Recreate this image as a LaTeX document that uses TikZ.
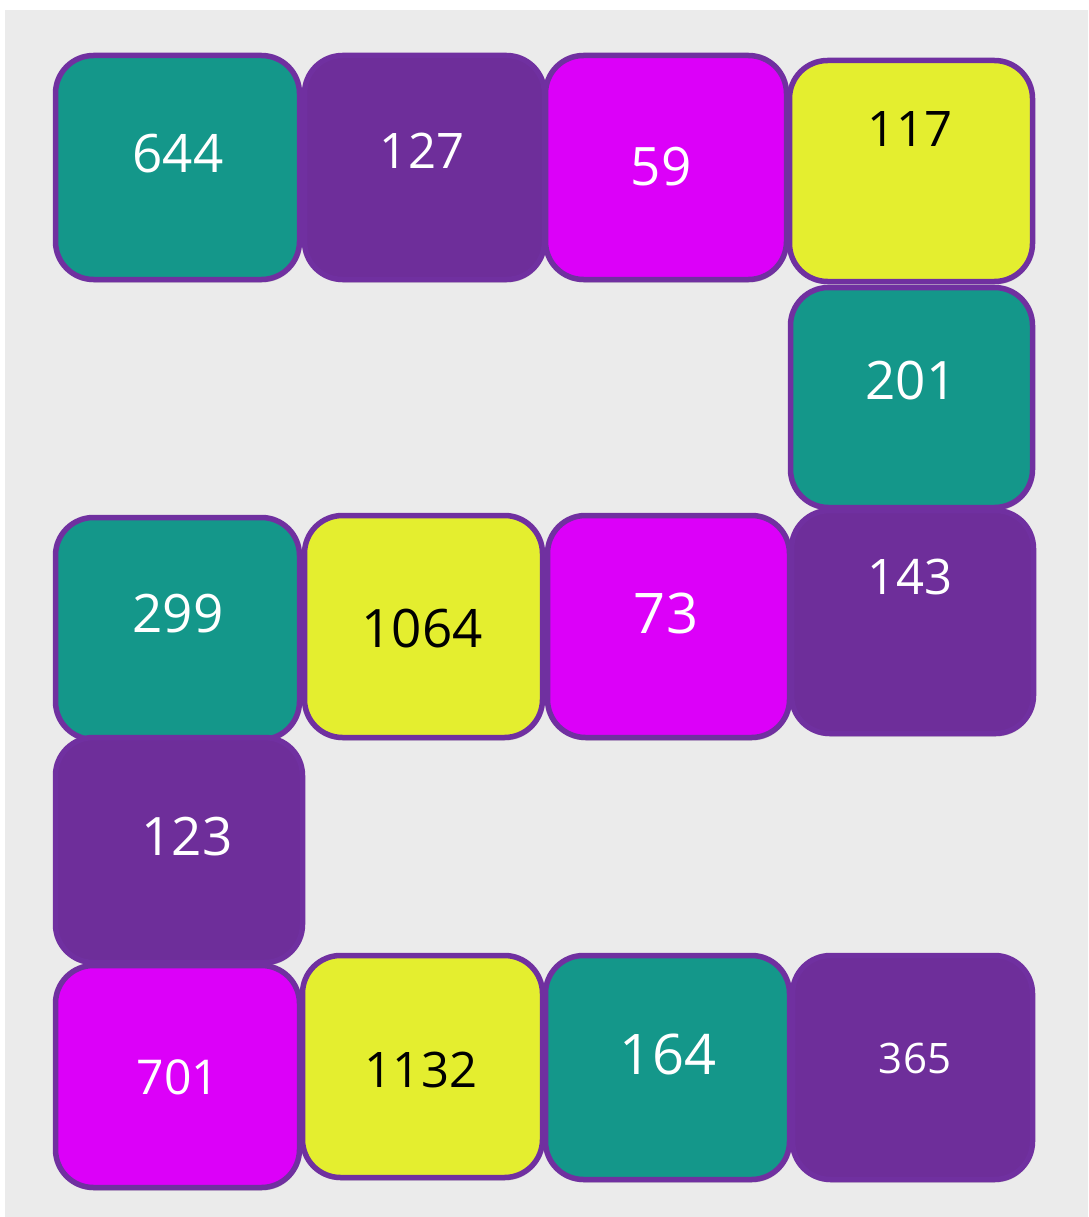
\documentclass[tikz,border=0pt]{standalone}
\usepackage{fontspec}
\setmainfont{Open Sans}
\usepackage{xcolor}
\usepackage{tikz}
\usetikzlibrary{shadows}
\definecolor{boardgray}{HTML}{EBEBEB}
\definecolor{tileteal}{HTML}{14978A}
\definecolor{tilepurple}{HTML}{6E2E9A}
\definecolor{tilemagenta}{HTML}{DC00F9}
\definecolor{tileyellow}{HTML}{E4EE2F}
\definecolor{edgepurple}{HTML}{7030A0}

\tikzset{
  tile/.style={draw=edgepurple, line width=5.5pt, rounded corners=38pt,
    inner sep=0pt,
    drop shadow={shadow xshift=1pt, shadow yshift=-3pt, opacity=0.3}},
  num/.style={text=white, font=\fontsize{#1}{#1}\selectfont}
}

\begin{document}
\begin{tikzpicture}[x=1pt, y=-1pt]
  \useasboundingbox (0,0) rectangle (1088,1217);
  \fill[white] (0,0) rectangle (1088,1217);
  \fill[boardgray] (5,10) rectangle (1088,1217);

  % top row
  \node[tile, fill=tileteal, minimum width=244pt, minimum height=224pt,
        label={[num=53, xshift=0.5pt, yshift=13.5pt]center:644}] (t644) at (177.5,167.5) {};
  \node[tile, fill=tilepurple, minimum width=240pt, minimum height=224pt,
        label={[num=49, xshift=-2.5pt, yshift=17pt]center:127}] (t127) at (424.5,167.5) {};
  \node[tile, fill=tilemagenta, minimum width=241pt, minimum height=224pt,
        label={[num=53, xshift=-5pt, yshift=0.5pt]center:59}] (t59) at (666,167.5) {};
  \node[tile, fill=tileyellow, minimum width=243pt, minimum height=221pt,
        label={[num=49, text=black, xshift=-1pt, yshift=42pt]center:117}] (t117) at (911,171) {};

  % right column
  \node[tile, fill=tileteal, minimum width=242pt, minimum height=220pt,
        label={[num=53, xshift=-0.5pt, yshift=16.5pt]center:201}] (t201) at (911.5,397.5) {};
  \node[tile, fill=tilepurple, minimum width=242pt, minimum height=223pt,
        label={[num=49, xshift=-2.5pt, yshift=45pt]center:143}] (t143) at (912.5,622) {};

  % middle row
  \node[tile, fill=tilemagenta, minimum width=242pt, minimum height=222pt,
        label={[num=56, xshift=-2.5pt, yshift=13.5pt]center:73}] (t73) at (668.5,626.5) {};
  \node[tile, fill=tileyellow, minimum width=238pt, minimum height=222pt,
        label={[num=53, text=black, xshift=-1.5pt, yshift=-2.5pt]center:1064}] (t1064) at (423.5,626.5) {};
  \node[tile, fill=tileteal, minimum width=244pt, minimum height=222pt,
        label={[num=53, xshift=0.5pt, yshift=14.5pt]center:299}] (t299) at (177.5,628.5) {};

  % left column
  \node[tile, fill=tilepurple, minimum width=247pt, minimum height=225pt,
        label={[num=53, xshift=8pt, yshift=13pt]center:123}] (t123) at (179,850) {};

  % bottom row
  \node[tile, fill=tilemagenta, minimum width=244pt, minimum height=222pt,
        label={[num=48, xshift=0.5pt, yshift=-0.5pt]center:701}] (t701) at (177.5,1076.5) {};
  \node[tile, fill=tileyellow, minimum width=240pt, minimum height=222pt,
        label={[num=49, text=black, xshift=-1.5pt, yshift=-3.5pt]center:1132}] (t1132) at (422.5,1066.5) {};
  \node[tile, fill=tileteal, minimum width=244pt, minimum height=224pt,
        label={[num=56, xshift=0.5pt, yshift=13.5pt]center:164}] (t164) at (667.5,1067.5) {};
  \node[tile, fill=tilepurple, minimum width=240pt, minimum height=224pt,
        label={[num=42, xshift=2.5pt, yshift=9.5pt]center:365}] (t365) at (912.5,1067.5) {};
\end{tikzpicture}
\end{document}
